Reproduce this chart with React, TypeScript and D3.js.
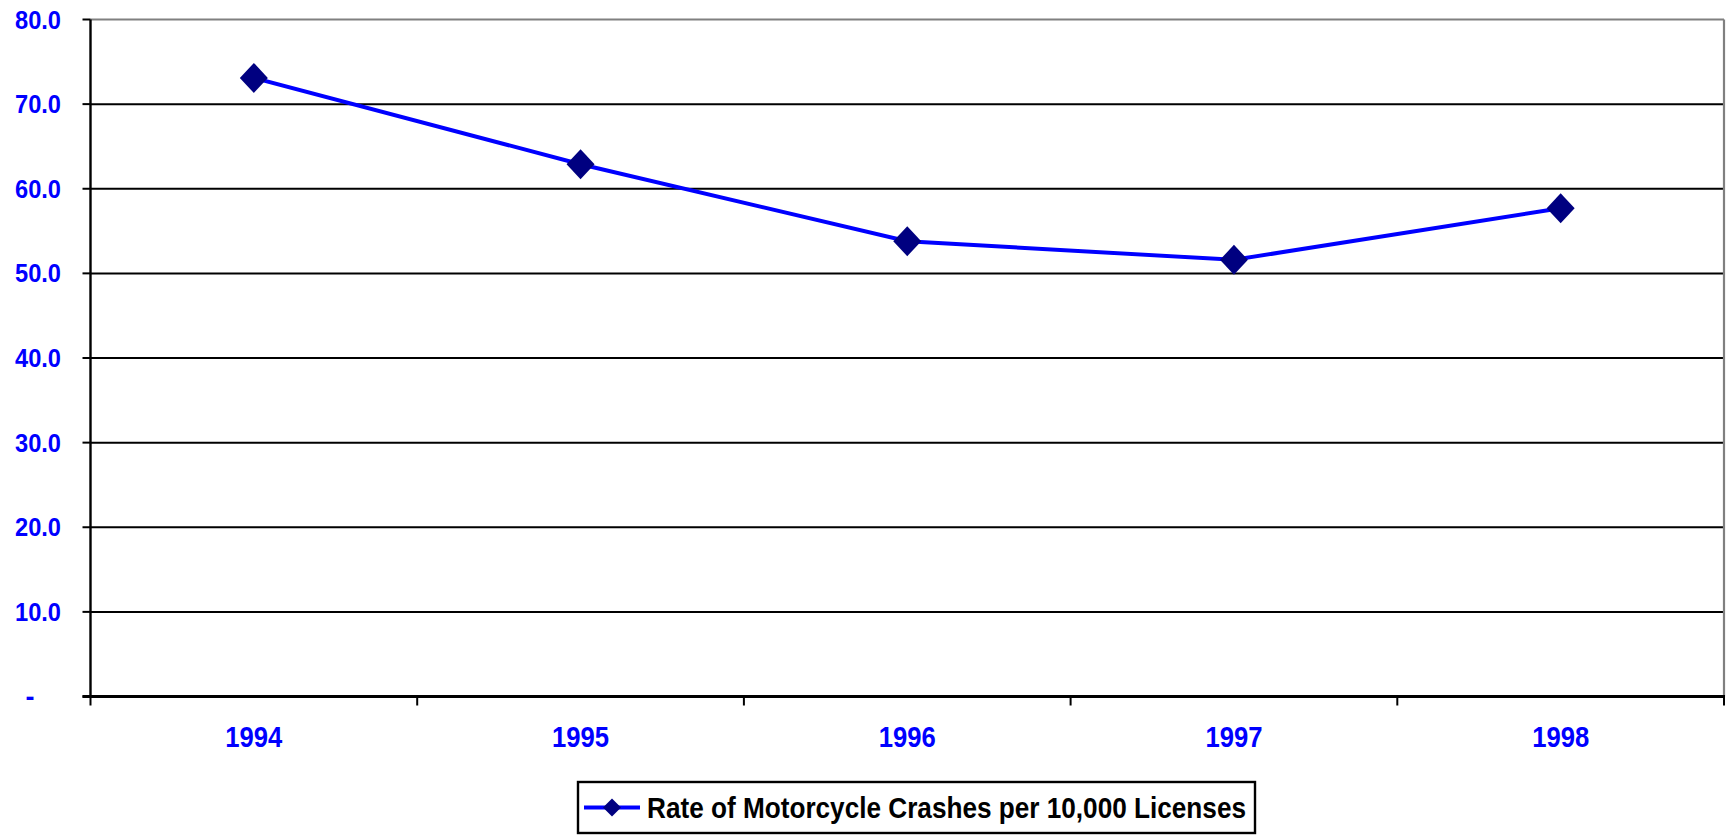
import React from "react";
import * as d3 from "d3";

const years = ["1994", "1995", "1996", "1997", "1998"];
const rates = [73.1, 62.9, 53.8, 51.6, 57.7];
const yTicks = [0, 10, 20, 30, 40, 50, 60, 70, 80];
const seriesName = "Rate of Motorcycle Crashes per 10,000 Licenses";

const W = 1726;
const H = 837;
const left = 90.5;
const right = 1724;
const top = 19.5;
const bottom = 696.5;
const FONT = "'Liberation Sans', Arial, sans-serif";

function diamond(cx: number, cy: number, rx: number, ry: number) {
  return `M${cx},${cy - ry}L${cx + rx},${cy}L${cx},${cy + ry}L${cx - rx},${cy}Z`;
}

export default function App() {
  const x = d3.scaleBand<string>().domain(years).range([left, right]).padding(0);
  const y = d3.scaleLinear().domain([0, 80]).range([bottom, top]);
  const cx = (d: string) => (x(d) as number) + x.bandwidth() / 2;
  const line = d3
    .line<number>()
    .x((_, i) => cx(years[i]))
    .y((d) => y(d));
  const boundaries = [...years.map((d) => x(d) as number), right];

  return (
    <svg width={W} height={H} style={{ position: "absolute", left: 0, top: 0, background: "#fff" }}>
      {/* gridlines */}
      {yTicks
        .filter((t) => t > 0 && t < 80)
        .map((t) => (
          <line key={t} x1={left} x2={right} y1={y(t)} y2={y(t)} stroke="#000" strokeWidth={2} />
        ))}
      {/* top & right border (gray) */}
      <line x1={left} x2={right} y1={y(80)} y2={y(80)} stroke="#808080" strokeWidth={2.2} />
      <line x1={right} x2={right} y1={y(80)} y2={bottom} stroke="#808080" strokeWidth={2.2} />
      {/* y ticks */}
      {yTicks.map((t) => (
        <line key={"yt" + t} x1={left - 8} x2={left} y1={y(t)} y2={y(t)} stroke="#000" strokeWidth={2} />
      ))}
      {/* x ticks */}
      {boundaries.map((b, i) => (
        <line key={"xt" + i} x1={b} x2={b} y1={bottom} y2={bottom + 9} stroke="#000" strokeWidth={2} />
      ))}
      {/* axes */}
      <line x1={left} x2={left} y1={y(80)} y2={bottom} stroke="#000" strokeWidth={2.4} />
      <line x1={left - 8} x2={right + 1} y1={bottom} y2={bottom} stroke="#000" strokeWidth={2.8} />
      {/* y labels */}
      {yTicks.map((t) =>
        t === 0 ? (
          <text key={"yl" + t} x={30} y={y(t)} textAnchor="middle" dominantBaseline="central" fontFamily={FONT} fontWeight="bold" fontSize={27} fill="#0000FF">
            -
          </text>
        ) : (
          <text key={"yl" + t} x={61} y={y(t)} textAnchor="end" dominantBaseline="central" fontFamily={FONT} fontWeight="bold" fontSize={26} fill="#0000FF" textLength={46} lengthAdjust="spacingAndGlyphs">
            {t.toFixed(1)}
          </text>
        )
      )}
      {/* x labels */}
      {years.map((d) => (
        <text key={"xl" + d} x={cx(d)} y={747} textAnchor="middle" fontFamily={FONT} fontWeight="bold" fontSize={29} fill="#0000FF" textLength={57} lengthAdjust="spacingAndGlyphs">
          {d}
        </text>
      ))}
      {/* series */}
      <path d={line(rates) as string} fill="none" stroke="#0000FF" strokeWidth={4} />
      {rates.map((v, i) => (
        <path key={"m" + i} d={diamond(cx(years[i]), y(v), 14, 15)} fill="#000080" />
      ))}
      {/* legend */}
      <rect x={578} y={782} width={677} height={51} fill="#fff" stroke="#000" strokeWidth={2.4} />
      <line x1={584} x2={640} y1={807.5} y2={807.5} stroke="#0000FF" strokeWidth={4} />
      <path d={diamond(612, 807.5, 9, 9)} fill="#000080" />
      <text x={647} y={818} fontFamily={FONT} fontWeight="bold" fontSize={29} fill="#000" textLength={599} lengthAdjust="spacingAndGlyphs">
        {seriesName}
      </text>
    </svg>
  );
}
